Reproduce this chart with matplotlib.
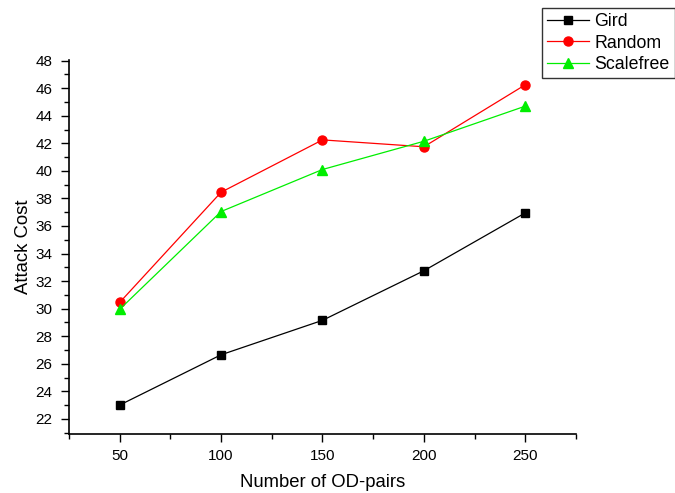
import matplotlib
matplotlib.use("Agg")
import matplotlib.pyplot as plt
from matplotlib.ticker import MultipleLocator

od_pairs = [50, 100, 150, 200, 250]
gird = [23.0, 26.65, 29.15, 32.75, 36.95]
random_net = [30.45, 38.45, 42.25, 41.75, 46.25]
scalefree = [29.95, 37.05, 40.1, 42.15, 44.7]

plt.rcParams.update({
    "font.family": ["Liberation Sans", "DejaVu Sans"],
    "font.size": 11,
})

fig = plt.figure(figsize=(6.75, 4.93), dpi=100)
ax = fig.add_axes([0.1022, 0.1197, 0.7511, 0.7586])

ax.plot(od_pairs, gird, color="black", lw=0.9, marker="s", ms=5.8, label="Gird")
ax.plot(od_pairs, random_net, color="red", lw=0.9, marker="o", ms=6.5, label="Random")
ax.plot(od_pairs, scalefree, color="#00ee00", lw=0.9, marker="^", ms=7.5, label="Scalefree")

ax.set_xlim(25, 275)
ax.set_ylim(20.9, 48.05)
ax.xaxis.set_major_locator(MultipleLocator(50))
ax.xaxis.set_minor_locator(MultipleLocator(25))
ax.yaxis.set_major_locator(MultipleLocator(2))
ax.yaxis.set_minor_locator(MultipleLocator(1))
ax.set_yticks(range(22, 49, 2))
ax.tick_params(which="major", direction="out", length=6, width=1, labelsize=11)
ax.tick_params(which="minor", direction="out", length=3.5, width=1)
ax.tick_params(axis="x", which="major", pad=5)
ax.tick_params(axis="y", which="major", pad=6)
ax.spines["top"].set_visible(False)
ax.spines["right"].set_visible(False)
ax.spines["left"].set_linewidth(1.2)
ax.spines["bottom"].set_linewidth(1.2)

ax.set_xlabel("Number of OD-pairs", fontsize=13.3, labelpad=7.5)
ax.set_ylabel("Attack Cost", fontsize=13.3, labelpad=2.5)

leg = fig.legend(loc="upper right", bbox_to_anchor=(1.0, 0.984), fontsize=12.8,
                 frameon=True, fancybox=False, handlelength=2.35,
                 borderpad=0.3, labelspacing=0.25, handletextpad=0.3,
                 borderaxespad=0.0)
leg.get_frame().set_edgecolor("black")
leg.get_frame().set_linewidth(1.0)

fig.savefig("out.png", dpi=100)
